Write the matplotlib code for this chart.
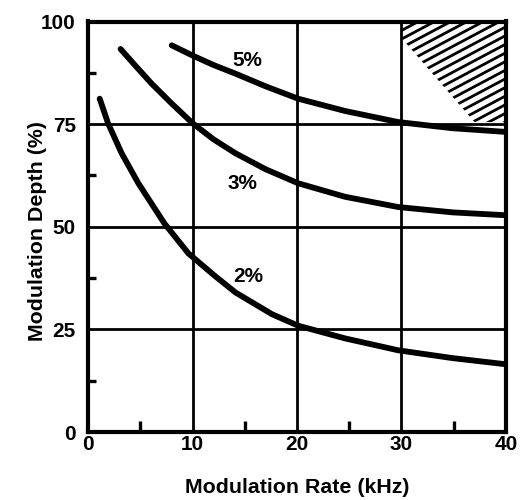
import numpy as np
import matplotlib
matplotlib.use("Agg")
import matplotlib.pyplot as plt
from matplotlib import font_manager
from matplotlib.patches import Polygon
from matplotlib.ticker import MultipleLocator

# curves (rate kHz, depth %)
rate_2 = [1.1, 1.9, 3.2, 4.8, 7.3, 9.6, 12.0, 14.1, 17.6, 20.1, 24.6, 29.7, 34.9, 40.0]
depth_2 = [81.2, 75.2, 67.9, 60.6, 50.8, 43.5, 38.3, 34.0, 28.7, 25.9, 22.8, 19.9, 18.0, 16.5]

rate_3 = [3.1, 4.6, 6.1, 8.0, 10.0, 12.0, 14.1, 17.0, 20.1, 24.6, 29.7, 34.9, 40.0]
depth_3 = [93.3, 89.0, 84.8, 80.0, 75.2, 71.3, 67.9, 64.0, 60.6, 57.3, 54.8, 53.5, 52.8]

rate_5 = [8.0, 10.0, 12.0, 14.1, 17.0, 20.1, 24.6, 29.7, 34.9, 40.0]
depth_5 = [94.2, 91.7, 89.4, 87.3, 84.2, 81.2, 78.2, 75.5, 74.0, 73.1]

curve_labels = ["2%", "3%", "5%"]
label_x = [15.3, 14.8, 15.2]
label_y = [37.8, 60.6, 90.6]

# hatched (excluded) region
hatch_x = [30.0, 40.0, 40.0, 37.0, 30.0]
hatch_y = [100.0, 100.0, 75.5, 75.5, 96.0]

x_ticks = [0, 10, 20, 30, 40]
y_ticks = [0, 25, 50, 75, 100]

names = {f.name for f in font_manager.fontManager.ttflist}
narrow = "Liberation Sans Narrow" in names
font = ["Liberation Sans Narrow" if narrow else "Liberation Sans", "DejaVu Sans"]
k = 1.0 if narrow else 0.88

fig = plt.figure(figsize=(5.22, 5.00), dpi=100)
ax = fig.add_axes([0.169, 0.136, 0.800, 0.821])

ax.set_xlim(0, 40)
ax.set_ylim(0, 100)

for r, d in [(rate_2, depth_2), (rate_3, depth_3), (rate_5, depth_5)]:
    ax.plot(r, d, color="black", lw=4.2, solid_capstyle="round",
            solid_joinstyle="round", zorder=4)

for t, lx, ly in zip(curve_labels, label_x, label_y):
    ax.text(lx, ly, t, ha="center", va="center", fontsize=17 * k,
            fontweight="bold", family=font, zorder=5)

# hatching with shallow diagonal lines, clipped to the region
poly = Polygon(list(zip(hatch_x, hatch_y)), closed=True, fill=False,
               edgecolor="none")
ax.add_patch(poly)
xs = np.array([28.0, 42.0])
for y0 in np.arange(60.0, 112.0, 2.1):
    ln, = ax.plot(xs, y0 + 1.35 * (xs - 30.0), color="black", lw=2.0, zorder=3)
    ln.set_clip_path(poly)

ax.xaxis.set_minor_locator(MultipleLocator(5))
ax.yaxis.set_minor_locator(MultipleLocator(12.5))
ax.set_xticks(x_ticks)
ax.set_yticks(y_ticks)
ax.set_xticklabels([str(v) for v in x_ticks])
ax.set_yticklabels([str(v) for v in y_ticks])

ax.grid(True, which="major", color="black", lw=2.0)
ax.tick_params(which="major", length=0, pad=2)
ax.tick_params(axis="y", which="major", pad=9)
ax.tick_params(axis="x", which="minor", direction="in", length=8, width=2.4,
               color="black")
ax.tick_params(axis="y", which="minor", direction="in", length=6, width=2.4,
               color="black")
for lab in ax.get_xticklabels() + ax.get_yticklabels():
    lab.set_fontsize(17 * k)
    lab.set_fontweight("bold")
    lab.set_family(font)

for s in ax.spines.values():
    s.set_linewidth(3.0)
    s.set_zorder(6)

ax.set_xlabel("Modulation Rate (kHz)", fontsize=17.5 * k, fontweight="bold",
              family=font, va="center")
ax.set_ylabel("Modulation Depth (%)", fontsize=17.5 * k, fontweight="bold",
              family=font, va="center")
ax.xaxis.set_label_coords(0.5, -0.134)
ax.yaxis.set_label_coords(-0.122, 0.49)

fig.savefig("out.png", dpi=100)
